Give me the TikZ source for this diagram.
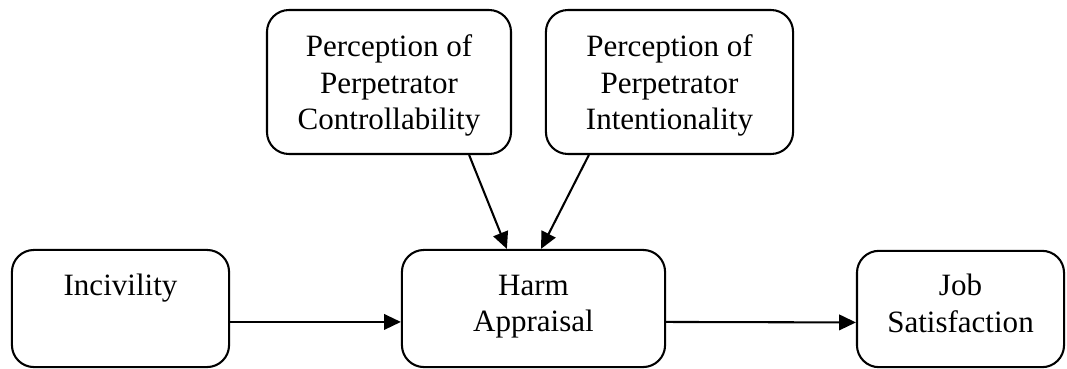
\documentclass[tikz,border=0pt]{standalone}
\usepackage{fontspec}
\setmainfont{Liberation Serif}
\usetikzlibrary{arrows.meta,positioning}
\newcommand\bstrut{\rule[-5.2pt]{0pt}{14.2pt}}
\newcommand\tstrut{\rule[-2.8pt]{0pt}{14.2pt}}

\begin{document}
\begin{tikzpicture}[x=0.0136cm,y=-0.0136cm,
  box/.style={draw,line width=0.8pt,rounded corners=8.5pt,align=center,inner sep=0pt,
    font=\fontsize{12pt}{14.2pt}\selectfont},
  arr/.style={line width=0.8pt,-{Triangle[length=6.5pt,width=6pt]}}]
\useasboundingbox (0,0) rectangle (1067,368);
\node[box,minimum width=84pt,minimum height=45.3pt] (inc) at (120.5,308.5) {\bstrut Incivility\\\bstrut};
\node[box,minimum width=101.8pt,minimum height=45.3pt] (harm) at (533.5,308.5) {\bstrut Harm\\\bstrut Appraisal};
\node[box,minimum width=80.1pt,minimum height=45pt] (job) at (960.5,309) {\bstrut Job\\\bstrut Satisfaction};
\node[box,minimum width=94.4pt,minimum height=55.7pt] (ctrl) at (389,82) {\tstrut Perception of\\\tstrut Perpetrator\\\tstrut Controllability};
\node[box,minimum width=95.6pt,minimum height=55.7pt] (intn) at (669.5,82) {\tstrut Perception of\\\tstrut Perpetrator\\\tstrut Intentionality};
\draw[arr] ([yshift=-5.2pt]inc.east) -- ([yshift=-5.2pt]harm.west);
\draw[arr] ([yshift=-5.2pt]harm.east) -- ([yshift=-5.2pt]job.west);
\draw[arr] ([xshift=31pt]ctrl.south) -- ([xshift=-10.3pt]harm.north);
\draw[arr] ([xshift=-31.2pt]intn.south) -- ([xshift=2.9pt]harm.north);
\end{tikzpicture}
\end{document}
